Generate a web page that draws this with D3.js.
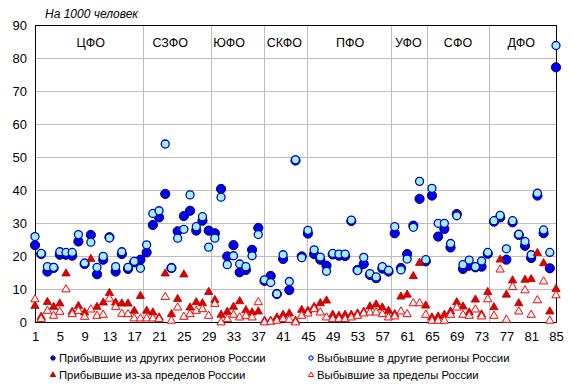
<!DOCTYPE html>
<html><head><meta charset="utf-8">
<script src="https://cdn.jsdelivr.net/npm/d3@7"></script>
<style>
html,body{margin:0;padding:0;background:#fff;}
text{font-family:Arial,"Liberation Sans",sans-serif;}
</style></head>
<body>
<svg id="chart" width="574" height="387"></svg>
<script>
// ---- data ----
const regions = d3.range(1, 86);
const arrivedRegions = [23.4,20.7,15.4,16.5,20.5,20.5,20.2,24.5,17.7,26.5,14.6,19.0,25.8,15.4,20.7,16.2,18.2,19.0,
  21.2,29.5,31.8,38.9,16.5,27.6,32.2,33.8,27.8,30.8,27.8,
  27.0,40.4,20.0,23.4,15.2,15.9,22.0,28.6,
  12.6,14.1,8.6,19.2,9.8,49.0,20.0,
  26.9,20.7,19.0,17.2,20.6,20.2,20.1,30.7,15.9,17.7,14.4,13.4,16.3,15.4,
  27.0,16.5,20.7,29.3,37.4,18.5,
  38.4,26.0,28.3,22.7,32.8,16.2,17.2,16.7,16.9,20.8,
  30.5,31.8,19.0,30.3,26.5,23.2,19.5,38.4,27.0,16.4,77.2];
const departedRegions = [26.0,20.9,16.9,16.7,21.4,21.2,21.2,26.6,18.0,24.3,16.7,20.0,25.6,16.9,21.4,16.7,18.5,16.4,
  23.5,33.0,33.8,54.0,16.5,25.5,28.2,38.6,29.0,32.0,22.8,
  25.5,37.9,17.5,20.2,17.7,16.9,20.2,26.6,
  12.9,12.1,8.7,20.5,12.4,49.2,19.6,
  27.9,22.0,19.8,15.5,20.9,20.7,20.7,31.0,15.7,19.7,14.8,13.8,16.9,15.8,
  29.0,15.9,19.2,28.8,42.7,19.0,
  40.6,30.0,30.0,23.9,32.3,17.5,18.9,16.9,18.6,21.2,
  30.8,32.4,22.3,30.8,26.7,24.5,20.5,39.1,28.0,21.2,83.8];
const arrivedAbroad = [5.0,1.7,6.2,4.7,5.7,14.8,3.2,5.0,3.0,19.2,4.7,6.0,8.9,6.0,5.7,5.7,3.5,8.0,
  3.5,3.0,1.5,14.8,2.5,7.1,14.5,4.5,6.1,5.8,9.2,
  6.8,2.3,3.2,4.7,6.4,3.7,3.0,3.3,
  0.5,0.5,1.5,2.3,2.7,0.5,3.8,
  3.5,4.7,5.8,6.6,2.3,2.0,2.3,2.3,2.7,3.2,4.8,5.4,4.5,3.5,
  2.5,7.8,8.4,14.0,18.0,5.1,
  1.5,1.8,2.3,3.3,6.1,4.8,3.0,6.9,2.4,9.2,
  4.6,19.0,8.4,12.7,5.8,12.9,13.1,21.0,17.9,3.3,10.1];
const departedAbroad = [7.0,1.0,3.5,2.0,3.2,10.0,2.5,3.5,1.7,3.9,2.0,2.3,7.2,4.7,2.6,2.5,1.2,1.2,
  1.2,1.2,1.0,7.7,0.5,4.5,1.7,2.5,3.5,4.0,2.0,
  5.6,0.0,1.0,2.3,1.5,2.0,1.5,6.1,
  0.0,0.2,0.5,1.0,0.8,0.0,2.0,
  2.7,4.0,3.0,1.5,1.0,1.0,1.0,1.5,2.0,2.7,3.0,3.0,2.5,1.5,
  1.8,3.3,2.5,5.8,5.8,2.3,
  0.5,0.5,0.5,2.3,4.5,2.3,2.0,3.9,1.8,7.0,
  2.0,16.0,0.8,10.7,3.3,9.7,2.3,6.7,12.4,0.5,8.2];
const districts = ["ЦФО","СЗФО","ЮФО","СКФО","ПФО","УФО","СФО","ДФО"];
const districtLabelX = [10, 22.8, 32.3, 41.2, 51.8, 61.2, 69.2, 79.4];
const separators = [18.5, 29.5, 38, 45, 58.5, 64.3, 74.2];
const xTicks = d3.range(1, 86, 4);
const yTicks = d3.range(0, 91, 10);
const seriesNames = ["Прибывшие из других регионов России","Выбывшие в другие регионы России",
  "Прибывшие из-за пределов России","Выбывшие за пределы России"];

// ---- chart ----
const svg = d3.select("#chart");
const x = d3.scaleLinear().domain([1, 85]).range([35, 556]);
const y = d3.scaleLinear().domain([0, 90]).range([322.5, 25]);

// gridlines
svg.append("g").selectAll("line").data(yTicks.filter(d => d > 0 && d < 90)).join("line")
  .attr("x1", x(1)).attr("x2", x(85)).attr("y1", d => y(d)).attr("y2", d => y(d))
  .attr("stroke", "#bdbdbd").attr("stroke-width", 1).attr("shape-rendering", "crispEdges");
svg.append("g").selectAll("line").data(separators).join("line")
  .attr("x1", d => x(d)).attr("x2", d => x(d)).attr("y1", y(90)).attr("y2", y(0))
  .attr("stroke", "#bdbdbd").attr("stroke-width", 1).attr("shape-rendering", "crispEdges");

// frame
svg.append("rect").attr("x", x(1)).attr("y", y(90)).attr("width", x(85) - x(1)).attr("height", y(0) - y(90))
  .attr("fill", "none").attr("stroke", "#000").attr("stroke-width", 1).attr("shape-rendering", "crispEdges");

// axis labels
const yAxis = d3.axisLeft(y).tickValues(yTicks).tickSize(0).tickPadding(8);
const gy = svg.append("g").attr("transform", `translate(${x(1)},0)`).call(yAxis);
gy.select(".domain").remove();
gy.selectAll("text").attr("font-size", 13).attr("fill", "#000").attr("font-family", "Arial, Liberation Sans, sans-serif");

const xAxis = d3.axisBottom(x).tickValues(xTicks).tickSize(0).tickPadding(9);
const gx = svg.append("g").attr("transform", `translate(0,${y(0)})`).call(xAxis);
gx.select(".domain").remove();
gx.selectAll("text").attr("font-size", 13).attr("fill", "#000").attr("font-family", "Arial, Liberation Sans, sans-serif");

// district labels
svg.append("g").selectAll("text").data(districts).join("text")
  .attr("x", (d, i) => x(districtLabelX[i])).attr("y", 47)
  .attr("text-anchor", "middle").attr("font-size", 12.5).text(d => d);

// title
svg.append("text").attr("x", 45).attr("y", 18).attr("font-size", 12).attr("font-style", "italic").text("На 1000 человек");

// markers
const tri = d3.symbol().type(d3.symbolTriangle).size(30);
const triSmall = d3.symbol().type(d3.symbolTriangle).size(12);

const styles = [
  {fill: "#0000ee", stroke: "#00006b", sw: 1, r: 4.6},
  {fill: "#9ff2ff", stroke: "#0000c8", sw: 1.3, r: 4.0},
  {fill: "#e00000", stroke: "#b00000", sw: 0.8},
  {fill: "#ffffff", stroke: "#ff0000", sw: 1}
];

svg.append("g").selectAll("circle").data(regions).join("circle")
  .attr("cx", d => x(d)).attr("cy", (d, i) => y(arrivedRegions[i])).attr("r", styles[0].r)
  .attr("fill", styles[0].fill).attr("stroke", styles[0].stroke).attr("stroke-width", styles[0].sw);
svg.append("g").selectAll("circle").data(regions).join("circle")
  .attr("cx", d => x(d)).attr("cy", (d, i) => y(departedRegions[i])).attr("r", styles[1].r)
  .attr("fill", styles[1].fill).attr("stroke", styles[1].stroke).attr("stroke-width", styles[1].sw);
svg.append("g").selectAll("path").data(regions).join("path")
  .attr("d", tri).attr("transform", (d, i) => `translate(${x(d)},${y(arrivedAbroad[i])})`)
  .attr("fill", styles[2].fill).attr("stroke", styles[2].stroke).attr("stroke-width", styles[2].sw);
svg.append("g").selectAll("path").data(regions).join("path")
  .attr("d", tri).attr("transform", (d, i) => `translate(${x(d)},${y(departedAbroad[i])})`)
  .attr("fill", styles[3].fill).attr("stroke", styles[3].stroke).attr("stroke-width", styles[3].sw);

// legend
const legPos = [[53, 358], [311, 358], [53, 375], [311, 375]];
const leg = svg.append("g").selectAll("g").data(seriesNames).join("g")
  .attr("transform", (d, i) => `translate(${legPos[i][0]},${legPos[i][1]})`);
leg.each(function(d, i) {
  const g = d3.select(this);
  if (i < 2) {
    g.append("circle").attr("r", 2.2).attr("fill", styles[i].fill).attr("stroke", styles[i].stroke).attr("stroke-width", 1);
  } else {
    g.append("path").attr("d", triSmall).attr("fill", styles[i].fill).attr("stroke", styles[i].stroke).attr("stroke-width", 1);
  }
  g.append("text").attr("x", 6).attr("y", 4.2).attr("font-size", 11.3).text(d);
});
</script>
</body></html>
